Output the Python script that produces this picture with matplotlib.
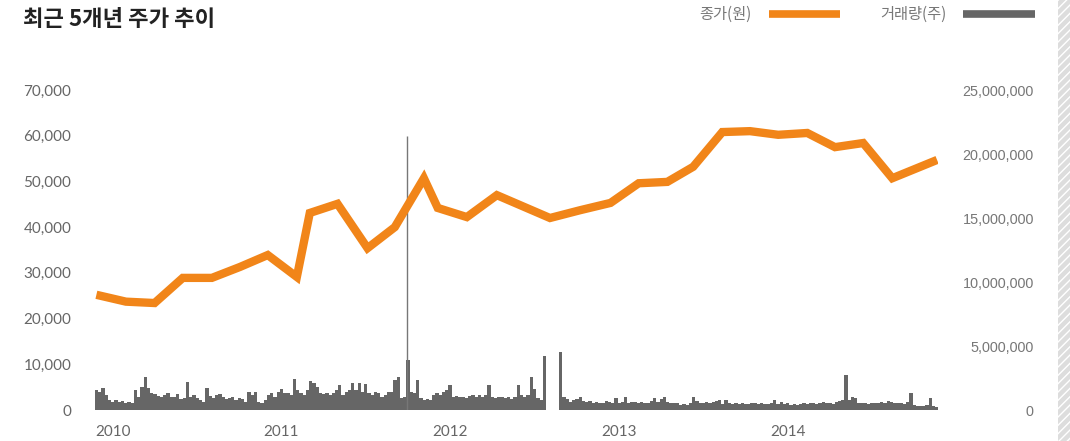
import matplotlib
matplotlib.use("Agg")
import matplotlib.pyplot as plt
import numpy as np
import pandas as pd
from matplotlib.lines import Line2D
from matplotlib.patches import Rectangle

# 종가 (원) - 대략 두 달 간격
price_dates = [
    "2010-01-04", "2010-03-09", "2010-05-10", "2010-07-10", "2010-09-11", "2010-11-11",
    "2011-01-10", "2011-03-14", "2011-04-11", "2011-06-10", "2011-08-14", "2011-10-12",
    "2011-12-14", "2012-01-13", "2012-03-16", "2012-05-20", "2012-09-12", "2012-11-16",
    "2013-01-21", "2013-03-23", "2013-05-24", "2013-07-19", "2013-09-20", "2013-11-19",
    "2014-01-19", "2014-03-23", "2014-05-22", "2014-07-22", "2014-09-23", "2014-12-29",
]
price = [
    25200, 23700, 23400, 28900, 28900, 31300,
    33900, 29100, 43100, 45100, 35400, 40000,
    50700, 44200, 42200, 47000, 42000, 43700,
    45300, 49600, 49900, 53200, 60800, 61000,
    60200, 60600, 57500, 58400, 50700, 54700,
]

# 거래량 (천 주) - 주 단위
vol_2010 = [1560, 1430, 1690, 1170, 780, 650, 780, 650, 730, 570, 650, 520, 1560,
            1040, 1820, 2550, 1690, 1300, 1250, 1090, 990, 1170, 1350, 990, 1040, 1250,
            830, 910, 2210, 990, 1170, 910, 780, 650, 1690, 1090, 910, 1170, 1250,
            1040, 830, 910, 990, 780, 910, 830, 650, 1430, 1170, 1430, 650, 520]
vol_2011 = [780, 1170, 1300, 1040, 1430, 1610, 1300, 1350, 1170, 2400, 1560, 1300, 1170,
            1560, 2290, 2140, 1820, 1350, 1250, 1300, 1170, 1300, 1560, 1950, 1170, 1430,
            1560, 2080, 1560, 2080, 1430, 2000, 1300, 1170, 1430, 1300, 1040, 1170, 1430,
            1430, 2340, 2600, 910, 1040, 3900, 1430, 1300, 2340, 910, 780, 830, 780]
vol_2012 = [1170, 1300, 1170, 1430, 1560, 1950, 1040, 1090, 990, 1040, 910, 1090, 1170,
            1040, 1170, 990, 1170, 1950, 1040, 910, 1040, 990, 910, 1040, 830, 990,
            1950, 1170, 1040, 1170, 2600, 1610, 910, 780, 4220, 0, 0, 0, 0,
            4560, 1040, 830, 650, 780, 830, 990, 730, 650, 730, 570, 650, 520]
vol_2013 = [570, 730, 650, 570, 910, 570, 650, 1040, 570, 650, 650, 570, 650,
            520, 570, 730, 910, 650, 830, 990, 650, 570, 520, 520, 390, 470,
            390, 520, 990, 730, 570, 520, 650, 570, 650, 730, 780, 470, 780,
            520, 470, 520, 440, 520, 470, 440, 520, 570, 470, 520, 440, 470]
vol_2014 = [520, 780, 470, 650, 470, 520, 390, 440, 390, 470, 520, 470, 570,
            520, 470, 570, 650, 520, 570, 470, 650, 730, 780, 2730, 780, 1040,
            910, 520, 570, 520, 470, 570, 520, 570, 650, 520, 730, 650, 570,
            520, 570, 470, 650, 1300, 390, 310, 310, 340, 390, 910, 310, 260]
vol_years = [2010, 2011, 2012, 2013, 2014]
volumes = [vol_2010, vol_2011, vol_2012, vol_2013, vol_2014]

highlight_date = "2011-11-08"

price_ticks = list(range(0, 70001, 10000))
grid_ticks = [20000, 40000, 60000]
volume_ticks = list(range(0, 25000001, 5000000))

ORANGE = "#F18519"
GRAY = "#666666"


def main():
    fig = plt.figure(figsize=(10.7, 4.41), dpi=100)
    ax = fig.add_axes([95 / 1070, 1 - 410 / 441, (938 - 95) / 1070, 320 / 441])
    ax2 = ax.twinx()

    # 거래량 (한 해를 52등분)
    for year, vals in zip(vol_years, volumes):
        start = pd.Timestamp(f"{year}-01-01")
        ndays = (pd.Timestamp(f"{year + 1}-01-01") - start).days
        step = ndays / len(vals)
        d = start + pd.to_timedelta(np.arange(len(vals)) * step, unit="D")
        ax2.bar(d, np.array(vals) * 1000, width=step * 1.02, align="edge",
                color=GRAY, linewidth=0)

    # 종가
    ax.plot(pd.to_datetime(price_dates), price, color=ORANGE, lw=6,
            solid_joinstyle="miter", solid_capstyle="butt", zorder=3)
    ax.vlines(pd.Timestamp(highlight_date), 0, 60000, color="#777777", lw=1, zorder=2)

    ax.set_zorder(ax2.get_zorder() + 1)
    ax.patch.set_visible(False)

    ax.set_xlim(pd.Timestamp("2010-01-01"), pd.Timestamp("2014-12-31"))
    ax.set_ylim(0, 70000)
    ax2.set_ylim(0, 25000000)

    ax.set_yticks(price_ticks)
    ax.set_yticklabels([f"{v:,}" for v in price_ticks], fontfamily="Lato",
                       fontsize=11, color="#666666")
    ax.set_yticks(grid_ticks, minor=True)
    ax.grid(which="minor", axis="y", color="#999999", lw=1.3)
    ax.tick_params(axis="y", which="both", length=0, pad=17)

    ax2.set_yticks(volume_ticks)
    ax2.set_yticklabels([f"{v:,}" for v in volume_ticks], fontfamily="Liberation Sans",
                        fontsize=10.4, color="#777777", ha="right")
    ax2.tick_params(axis="y", length=0, pad=69)

    years = [pd.Timestamp(f"{y}-01-01") for y in range(2010, 2015)]
    ax.set_xticks(years)
    ax.set_xticklabels([str(y.year) for y in years], fontfamily="Lato",
                       fontsize=11, color="#666666", ha="left")
    ax.tick_params(axis="x", length=0, pad=11)

    for a in (ax, ax2):
        for s in a.spines.values():
            s.set_visible(False)

    fig.text(23 / 1070, 1 - 19 / 441, "최근 5개년 주가 추이", fontfamily="Noto Sans CJK KR",
             fontweight="bold", fontsize=16, color="#222222", va="center")

    handles = [
        Line2D([], [], color=ORANGE, lw=5.5, solid_capstyle="butt"),
        Line2D([], [], color=GRAY, lw=5.5, solid_capstyle="butt"),
    ]
    leg = fig.legend(handles, ["종가(원)", "거래량(주)"], loc="upper right",
                     bbox_to_anchor=(1035 / 1070, 1 - 6 / 441), ncol=2, frameon=False,
                     markerfirst=False, handlelength=4.7, handletextpad=1.1,
                     columnspacing=2.6, borderpad=0, borderaxespad=0,
                     prop={"family": "Noto Sans CJK KR", "size": 11})
    for t in leg.get_texts():
        t.set_color("#777777")

    fig.add_artist(Rectangle((1058 / 1070, 0), 12 / 1070, 1, transform=fig.transFigure,
                             facecolor="#dddddd", edgecolor="white", hatch="////",
                             linewidth=0))

    fig.savefig("out.png", dpi=100)


if __name__ == "__main__":
    main()
